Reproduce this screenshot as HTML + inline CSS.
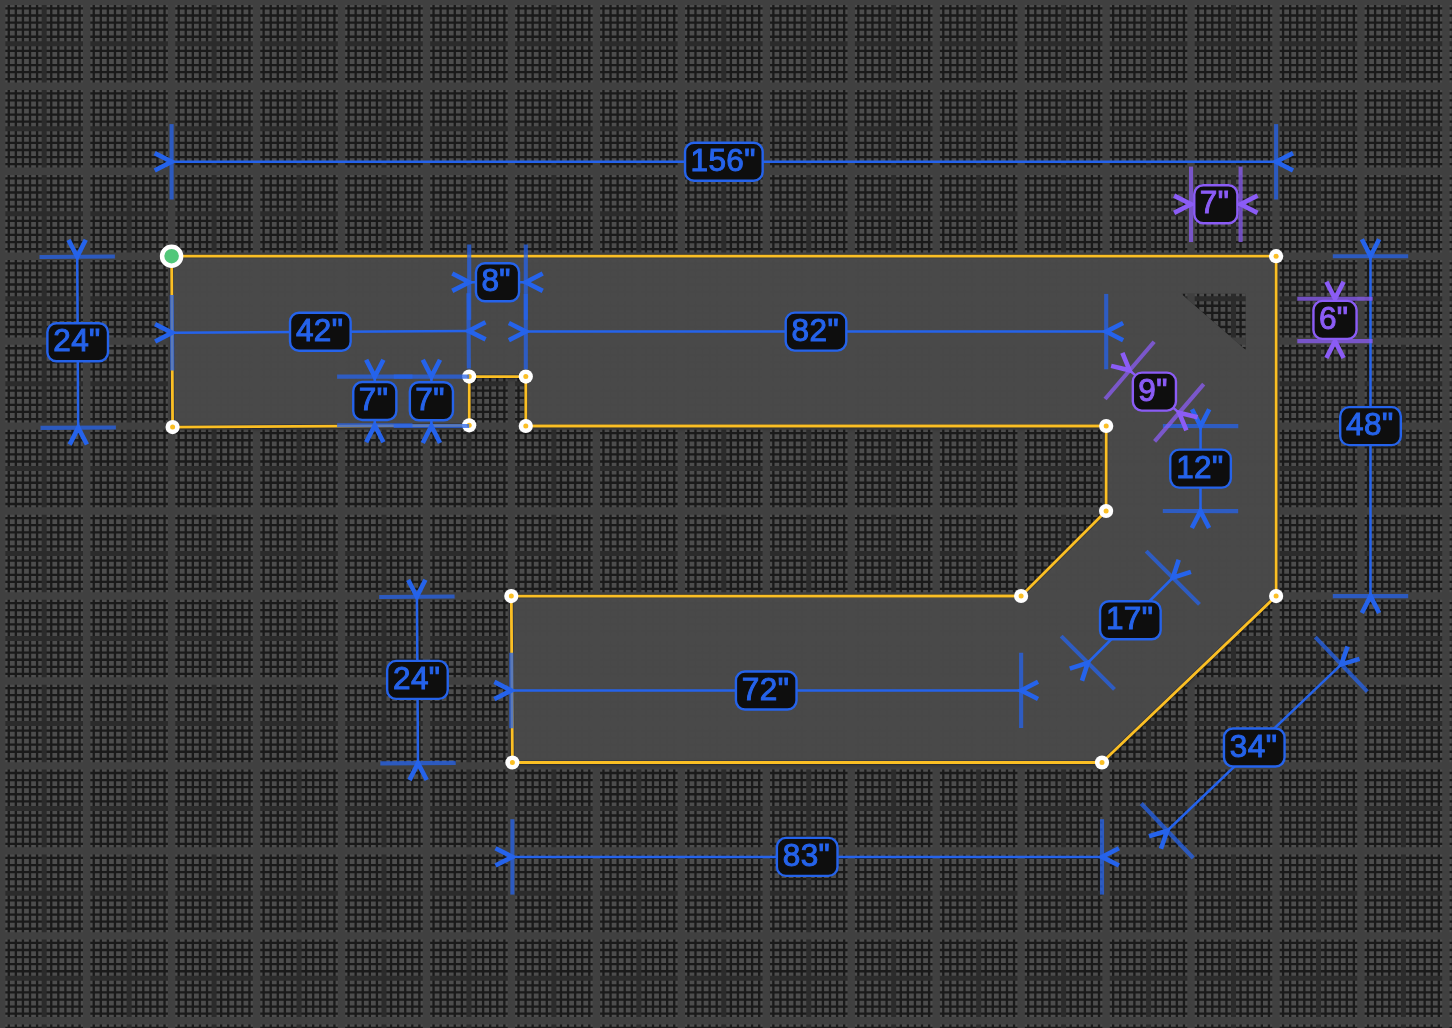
<!DOCTYPE html>
<html lang="en"><head><meta charset="utf-8"><title>Shape editor</title>
<style>
html,body{margin:0;padding:0;background:#4d4d4d;overflow:hidden}
body{width:1452px;height:1028px}
svg{display:block;will-change:transform}
text{font-family:"Liberation Sans",Arial,sans-serif;font-size:31.5px;letter-spacing:0.4px;text-anchor:middle}
</style></head><body>
<svg width="1452" height="1028" viewBox="0 0 1452 1028">
<rect width="1452" height="1028" fill="#4d4d4d"/>
<g fill="none">
<path stroke="#1a1a1a" stroke-width="2.3" d="M1.69 0V1028M8.77 0V1028M15.85 0V1028M22.93 0V1028M30.01 0V1028M37.09 0V1028M44.17 0V1028M51.25 0V1028M58.33 0V1028M65.41 0V1028M72.49 0V1028M79.57 0V1028M86.65 0V1028M93.73 0V1028M100.8 0V1028M107.88 0V1028M114.96 0V1028M122.04 0V1028M129.12 0V1028M136.2 0V1028M143.28 0V1028M150.36 0V1028M157.44 0V1028M164.52 0V1028M171.6 0V1028M178.68 0V1028M185.76 0V1028M192.84 0V1028M199.92 0V1028M207 0V1028M214.08 0V1028M221.16 0V1028M228.24 0V1028M235.32 0V1028M242.39 0V1028M249.47 0V1028M256.55 0V1028M263.63 0V1028M270.71 0V1028M277.79 0V1028M284.87 0V1028M291.95 0V1028M299.03 0V1028M306.11 0V1028M313.19 0V1028M320.27 0V1028M327.35 0V1028M334.43 0V1028M341.51 0V1028M348.59 0V1028M355.67 0V1028M362.75 0V1028M369.83 0V1028M376.91 0V1028M383.99 0V1028M391.06 0V1028M398.14 0V1028M405.22 0V1028M412.3 0V1028M419.38 0V1028M426.46 0V1028M433.54 0V1028M440.62 0V1028M447.7 0V1028M454.78 0V1028M461.86 0V1028M468.94 0V1028M476.02 0V1028M483.1 0V1028M490.18 0V1028M497.26 0V1028M504.34 0V1028M511.42 0V1028M518.5 0V1028M525.58 0V1028M532.65 0V1028M539.73 0V1028M546.81 0V1028M553.89 0V1028M560.97 0V1028M568.05 0V1028M575.13 0V1028M582.21 0V1028M589.29 0V1028M596.37 0V1028M603.45 0V1028M610.53 0V1028M617.61 0V1028M624.69 0V1028M631.77 0V1028M638.85 0V1028M645.93 0V1028M653.01 0V1028M660.09 0V1028M667.16 0V1028M674.24 0V1028M681.32 0V1028M688.4 0V1028M695.48 0V1028M702.56 0V1028M709.64 0V1028M716.72 0V1028M723.8 0V1028M730.88 0V1028M737.96 0V1028M745.04 0V1028M752.12 0V1028M759.2 0V1028M766.28 0V1028M773.36 0V1028M780.44 0V1028M787.52 0V1028M794.6 0V1028M801.68 0V1028M808.76 0V1028M815.83 0V1028M822.91 0V1028M829.99 0V1028M837.07 0V1028M844.15 0V1028M851.23 0V1028M858.31 0V1028M865.39 0V1028M872.47 0V1028M879.55 0V1028M886.63 0V1028M893.71 0V1028M900.79 0V1028M907.87 0V1028M914.95 0V1028M922.03 0V1028M929.11 0V1028M936.19 0V1028M943.27 0V1028M950.35 0V1028M957.42 0V1028M964.5 0V1028M971.58 0V1028M978.66 0V1028M985.74 0V1028M992.82 0V1028M999.9 0V1028M1006.98 0V1028M1014.06 0V1028M1021.14 0V1028M1028.22 0V1028M1035.3 0V1028M1042.38 0V1028M1049.46 0V1028M1056.54 0V1028M1063.62 0V1028M1070.7 0V1028M1077.78 0V1028M1084.86 0V1028M1091.93 0V1028M1099.01 0V1028M1106.09 0V1028M1113.17 0V1028M1120.25 0V1028M1127.33 0V1028M1134.41 0V1028M1141.49 0V1028M1148.57 0V1028M1155.65 0V1028M1162.73 0V1028M1169.81 0V1028M1176.89 0V1028M1183.97 0V1028M1191.05 0V1028M1198.13 0V1028M1205.21 0V1028M1212.29 0V1028M1219.37 0V1028M1226.45 0V1028M1233.52 0V1028M1240.6 0V1028M1247.68 0V1028M1254.76 0V1028M1261.84 0V1028M1268.92 0V1028M1276 0V1028M1283.08 0V1028M1290.16 0V1028M1297.24 0V1028M1304.32 0V1028M1311.4 0V1028M1318.48 0V1028M1325.56 0V1028M1332.64 0V1028M1339.72 0V1028M1346.8 0V1028M1353.88 0V1028M1360.96 0V1028M1368.04 0V1028M1375.12 0V1028M1382.19 0V1028M1389.27 0V1028M1396.35 0V1028M1403.43 0V1028M1410.51 0V1028M1417.59 0V1028M1424.67 0V1028M1431.75 0V1028M1438.83 0V1028M1445.91 0V1028M1452.99 0V1028M0 1.34H1452M0 8.42H1452M0 15.5H1452M0 22.58H1452M0 29.66H1452M0 36.74H1452M0 43.81H1452M0 50.89H1452M0 57.97H1452M0 65.05H1452M0 72.13H1452M0 79.21H1452M0 86.29H1452M0 93.37H1452M0 100.45H1452M0 107.53H1452M0 114.61H1452M0 121.69H1452M0 128.77H1452M0 135.85H1452M0 142.93H1452M0 150.01H1452M0 157.09H1452M0 164.17H1452M0 171.25H1452M0 178.33H1452M0 185.4H1452M0 192.48H1452M0 199.56H1452M0 206.64H1452M0 213.72H1452M0 220.8H1452M0 227.88H1452M0 234.96H1452M0 242.04H1452M0 249.12H1452M0 256.2H1452M0 263.28H1452M0 270.36H1452M0 277.44H1452M0 284.52H1452M0 291.6H1452M0 298.68H1452M0 305.76H1452M0 312.84H1452M0 319.92H1452M0 327H1452M0 334.07H1452M0 341.15H1452M0 348.23H1452M0 355.31H1452M0 362.39H1452M0 369.47H1452M0 376.55H1452M0 383.63H1452M0 390.71H1452M0 397.79H1452M0 404.87H1452M0 411.95H1452M0 419.03H1452M0 426.11H1452M0 433.19H1452M0 440.27H1452M0 447.35H1452M0 454.43H1452M0 461.51H1452M0 468.59H1452M0 475.66H1452M0 482.74H1452M0 489.82H1452M0 496.9H1452M0 503.98H1452M0 511.06H1452M0 518.14H1452M0 525.22H1452M0 532.3H1452M0 539.38H1452M0 546.46H1452M0 553.54H1452M0 560.62H1452M0 567.7H1452M0 574.78H1452M0 581.86H1452M0 588.94H1452M0 596.02H1452M0 603.1H1452M0 610.17H1452M0 617.25H1452M0 624.33H1452M0 631.41H1452M0 638.49H1452M0 645.57H1452M0 652.65H1452M0 659.73H1452M0 666.81H1452M0 673.89H1452M0 680.97H1452M0 688.05H1452M0 695.13H1452M0 702.21H1452M0 709.29H1452M0 716.37H1452M0 723.45H1452M0 730.53H1452M0 737.61H1452M0 744.69H1452M0 751.76H1452M0 758.84H1452M0 765.92H1452M0 773H1452M0 780.08H1452M0 787.16H1452M0 794.24H1452M0 801.32H1452M0 808.4H1452M0 815.48H1452M0 822.56H1452M0 829.64H1452M0 836.72H1452M0 843.8H1452M0 850.88H1452M0 857.96H1452M0 865.04H1452M0 872.12H1452M0 879.2H1452M0 886.28H1452M0 893.36H1452M0 900.43H1452M0 907.51H1452M0 914.59H1452M0 921.67H1452M0 928.75H1452M0 935.83H1452M0 942.91H1452M0 949.99H1452M0 957.07H1452M0 964.15H1452M0 971.23H1452M0 978.31H1452M0 985.39H1452M0 992.47H1452M0 999.55H1452M0 1006.63H1452M0 1013.71H1452M0 1020.79H1452M0 1027.87H1452"/>
<path stroke="#2b2b2b" stroke-width="5" d="M1.69 0V1028M44.17 0V1028M86.65 0V1028M129.12 0V1028M171.6 0V1028M214.08 0V1028M256.55 0V1028M299.03 0V1028M341.51 0V1028M383.99 0V1028M426.46 0V1028M468.94 0V1028M511.42 0V1028M553.89 0V1028M596.37 0V1028M638.85 0V1028M681.32 0V1028M723.8 0V1028M766.28 0V1028M808.76 0V1028M851.23 0V1028M893.71 0V1028M936.19 0V1028M978.66 0V1028M1021.14 0V1028M1063.62 0V1028M1106.09 0V1028M1148.57 0V1028M1191.05 0V1028M1233.52 0V1028M1276 0V1028M1318.48 0V1028M1360.96 0V1028M1403.43 0V1028M1445.91 0V1028M0 1.34H1452M0 43.81H1452M0 86.29H1452M0 128.77H1452M0 171.25H1452M0 213.72H1452M0 256.2H1452M0 298.68H1452M0 341.15H1452M0 383.63H1452M0 426.11H1452M0 468.59H1452M0 511.06H1452M0 553.54H1452M0 596.02H1452M0 638.49H1452M0 680.97H1452M0 723.45H1452M0 765.92H1452M0 808.4H1452M0 850.88H1452M0 893.36H1452M0 935.83H1452M0 978.31H1452M0 1020.79H1452"/>
<path stroke="#404040" stroke-width="7.4" d="M1.69 0V1028M86.65 0V1028M171.6 0V1028M256.55 0V1028M341.51 0V1028M426.46 0V1028M511.42 0V1028M596.37 0V1028M681.32 0V1028M766.28 0V1028M851.23 0V1028M936.19 0V1028M1021.14 0V1028M1106.09 0V1028M1191.05 0V1028M1276 0V1028M1360.96 0V1028M1445.91 0V1028M0 1.34H1452M0 86.29H1452M0 171.25H1452M0 256.2H1452M0 341.15H1452M0 426.11H1452M0 511.06H1452M0 596.02H1452M0 680.97H1452M0 765.92H1452M0 850.88H1452M0 935.83H1452M0 1020.79H1452"/>
</g>
<defs><filter id="ds" x="-5%" y="-5%" width="110%" height="110%"><feGaussianBlur in="SourceAlpha" stdDeviation="2.5"/><feOffset dy="2"/><feComponentTransfer><feFuncA type="linear" slope="0.4"/></feComponentTransfer></filter><clipPath id="nh"><path clip-rule="evenodd" d="M0 0H1452V1028H0ZM1181.2 293.8L1245.6 293.8L1245.6 349.8Z"/></clipPath></defs>
<g clip-path="url(#nh)"><path d="M171.6 256.2L1276.1 256.2L1276.1 596.1L1102 762.5L512.4 762.5L511.3 596.1L1021.1 596L1106.1 511L1106.2 426L525.8 426L525.8 376.6L469.2 376.6L469.2 425.3L172.6 427.1Z" fill="#000" filter="url(#ds)"/></g>
<path d="M171.6 256.2L1276.1 256.2L1276.1 596.1L1102 762.5L512.4 762.5L511.3 596.1L1021.1 596L1106.1 511L1106.2 426L525.8 426L525.8 376.6L469.2 376.6L469.2 425.3L172.6 427.1ZM1181.2 293.8L1245.6 293.8L1245.6 349.8Z" fill="#4b4b4b" fill-opacity="0.96" fill-rule="evenodd"/>
<path d="M171.6 256.2L1276.1 256.2L1276.1 596.1L1102 762.5L512.4 762.5L511.3 596.1L1021.1 596L1106.1 511L1106.2 426L525.8 426L525.8 376.6L469.2 376.6L469.2 425.3L172.6 427.1Z" fill="none" stroke="#161a2e" stroke-opacity="0.5" stroke-width="4.1" stroke-linejoin="round"/>
<path d="M171.6 256.2L1276.1 256.2L1276.1 596.1L1102 762.5L512.4 762.5L511.3 596.1L1021.1 596L1106.1 511L1106.2 426L525.8 426L525.8 376.6L469.2 376.6L469.2 425.3L172.6 427.1Z" fill="none" stroke="#fbbf24" stroke-width="2.8" stroke-linejoin="round"/>
<circle cx="171.6" cy="256.2" r="9.5" fill="#52c77a" stroke="#fff" stroke-width="4.5"/>
<circle cx="1276.1" cy="256.2" r="7.1" fill="#fff"/><circle cx="1276.1" cy="256.2" r="2.5" fill="#fbbf24"/>
<circle cx="1276.1" cy="596.1" r="7.1" fill="#fff"/><circle cx="1276.1" cy="596.1" r="2.5" fill="#fbbf24"/>
<circle cx="1102" cy="762.5" r="7.1" fill="#fff"/><circle cx="1102" cy="762.5" r="2.5" fill="#fbbf24"/>
<circle cx="512.4" cy="762.5" r="7.1" fill="#fff"/><circle cx="512.4" cy="762.5" r="2.5" fill="#fbbf24"/>
<circle cx="511.3" cy="596.1" r="7.1" fill="#fff"/><circle cx="511.3" cy="596.1" r="2.5" fill="#fbbf24"/>
<circle cx="1021.1" cy="596" r="7.1" fill="#fff"/><circle cx="1021.1" cy="596" r="2.5" fill="#fbbf24"/>
<circle cx="1106.1" cy="511" r="7.1" fill="#fff"/><circle cx="1106.1" cy="511" r="2.5" fill="#fbbf24"/>
<circle cx="1106.2" cy="426" r="7.1" fill="#fff"/><circle cx="1106.2" cy="426" r="2.5" fill="#fbbf24"/>
<circle cx="525.8" cy="426" r="7.1" fill="#fff"/><circle cx="525.8" cy="426" r="2.5" fill="#fbbf24"/>
<circle cx="525.8" cy="376.6" r="7.1" fill="#fff"/><circle cx="525.8" cy="376.6" r="2.5" fill="#fbbf24"/>
<circle cx="469.2" cy="376.6" r="7.1" fill="#fff"/><circle cx="469.2" cy="376.6" r="2.5" fill="#fbbf24"/>
<circle cx="469.2" cy="425.3" r="7.1" fill="#fff"/><circle cx="469.2" cy="425.3" r="2.5" fill="#fbbf24"/>
<circle cx="172.6" cy="427.1" r="7.1" fill="#fff"/><circle cx="172.6" cy="427.1" r="2.5" fill="#fbbf24"/>
<g stroke="#2563eb" fill="none"><path stroke-opacity="0.75" stroke-width="4.1" d="M171.6 199.5L171.6 124.1"/><path stroke-opacity="0.75" stroke-width="4.1" d="M1276.1 199.5L1276.1 124.1"/><path stroke-width="2.5" d="M171.6 161.8L1276.1 161.8"/><path stroke-width="4.6" stroke-linejoin="miter" d="M154.67 153.17L171.6 161.8L154.67 170.43M1293.03 170.43L1276.1 161.8L1293.03 153.17"/></g>
<g stroke="#2563eb" fill="none"><path stroke-opacity="0.75" stroke-width="4.1" d="M115.9 427.43L40.5 427.87"/><path stroke-opacity="0.75" stroke-width="4.1" d="M114.9 256.53L39.5 256.97"/><path stroke-width="2.5" d="M78.2 427.65L77.2 256.75"/><path stroke-width="4.6" stroke-linejoin="miter" d="M69.68 444.63L78.2 427.65L86.93 444.53M85.73 239.77L77.2 256.75L68.48 239.87"/></g>
<g stroke="#2563eb" fill="none"><path stroke-opacity="0.75" stroke-width="4.1" d="M172.26 370.4L171.8 295"/><path stroke-opacity="0.75" stroke-width="4.1" d="M468.86 368.6L468.4 293.2"/><path stroke-width="2.5" d="M172.03 332.7L468.63 330.9"/><path stroke-width="4.6" stroke-linejoin="miter" d="M155.05 324.18L172.03 332.7L155.15 341.43M485.61 339.42L468.63 330.9L485.5 322.17"/></g>
<g stroke="#2563eb" fill="none"><path stroke-opacity="0.75" stroke-width="4.1" d="M412.5 425.3L337.1 425.3"/><path stroke-opacity="0.75" stroke-width="4.1" d="M412.5 376.6L337.1 376.6"/><path stroke-width="2.5" d="M374.8 425.3L374.8 376.6"/><path stroke-width="4.6" stroke-linejoin="miter" d="M366.17 442.23L374.8 425.3L383.43 442.23M383.43 359.67L374.8 376.6L366.17 359.67"/></g>
<g stroke="#2563eb" fill="none"><path stroke-opacity="0.75" stroke-width="4.1" d="M469.2 319.9L469.2 244.5"/><path stroke-opacity="0.75" stroke-width="4.1" d="M525.8 319.9L525.8 244.5"/><path stroke-width="2.5" d="M469.2 282.2L525.8 282.2"/><path stroke-width="4.6" stroke-linejoin="miter" d="M452.27 273.57L469.2 282.2L452.27 290.83M542.73 290.83L525.8 282.2L542.73 273.57"/></g>
<g stroke="#2563eb" fill="none"><path stroke-opacity="0.75" stroke-width="4.1" d="M469.1 376.6L393.7 376.6"/><path stroke-opacity="0.75" stroke-width="4.1" d="M469.1 426L393.7 426"/><path stroke-width="2.5" d="M431.4 376.6L431.4 426"/><path stroke-width="4.6" stroke-linejoin="miter" d="M440.03 359.67L431.4 376.6L422.77 359.67M422.77 442.93L431.4 426L440.03 442.93"/></g>
<g stroke="#2563eb" fill="none"><path stroke-opacity="0.75" stroke-width="4.1" d="M525.8 369.3L525.8 293.9"/><path stroke-opacity="0.75" stroke-width="4.1" d="M1106.2 369.3L1106.2 293.9"/><path stroke-width="2.5" d="M525.8 331.6L1106.2 331.6"/><path stroke-width="4.6" stroke-linejoin="miter" d="M508.87 322.97L525.8 331.6L508.87 340.23M1123.13 340.23L1106.2 331.6L1123.13 322.97"/></g>
<g stroke="#2563eb" fill="none"><path stroke-opacity="0.75" stroke-width="4.1" d="M1162.9 426.07L1238.3 426.16"/><path stroke-opacity="0.75" stroke-width="4.1" d="M1162.8 511.07L1238.2 511.16"/><path stroke-width="2.5" d="M1200.6 426.11L1200.5 511.11"/><path stroke-width="4.6" stroke-linejoin="miter" d="M1209.25 409.19L1200.6 426.11L1191.99 409.17M1191.85 528.03L1200.5 511.11L1209.11 528.05"/></g>
<g stroke="#2563eb" fill="none"><path stroke-opacity="0.75" stroke-width="4.1" d="M1061.19 636.09L1114.51 689.41"/><path stroke-opacity="0.75" stroke-width="4.1" d="M1146.19 551.09L1199.51 604.41"/><path stroke-width="2.5" d="M1087.85 662.75L1172.85 577.75"/><path stroke-width="4.6" stroke-linejoin="miter" d="M1069.78 668.62L1087.85 662.75L1081.98 680.82M1190.92 571.88L1172.85 577.75L1178.72 559.68"/></g>
<g stroke="#2563eb" fill="none"><path stroke-opacity="0.75" stroke-width="4.1" d="M511.31 652.8L511.33 728.2"/><path stroke-opacity="0.75" stroke-width="4.1" d="M1021.11 652.7L1021.13 728.1"/><path stroke-width="2.5" d="M511.32 690.5L1021.12 690.4"/><path stroke-width="4.6" stroke-linejoin="miter" d="M494.39 681.88L511.32 690.5L494.39 699.13M1038.05 699.02L1021.12 690.4L1038.05 681.77"/></g>
<g stroke="#2563eb" fill="none"><path stroke-opacity="0.75" stroke-width="4.1" d="M454.6 596.47L379.2 596.97"/><path stroke-opacity="0.75" stroke-width="4.1" d="M455.7 762.87L380.3 763.37"/><path stroke-width="2.5" d="M416.9 596.72L418 763.12"/><path stroke-width="4.6" stroke-linejoin="miter" d="M425.42 579.74L416.9 596.72L408.16 579.85M409.49 780.11L418 763.12L426.74 780"/></g>
<g stroke="#2563eb" fill="none"><path stroke-opacity="0.75" stroke-width="4.1" d="M512.4 819.2L512.4 894.6"/><path stroke-opacity="0.75" stroke-width="4.1" d="M1102 819.2L1102 894.6"/><path stroke-width="2.5" d="M512.4 856.9L1102 856.9"/><path stroke-width="4.6" stroke-linejoin="miter" d="M495.47 848.27L512.4 856.9L495.47 865.53M1118.93 865.53L1102 856.9L1118.93 848.27"/></g>
<g stroke="#2563eb" fill="none"><path stroke-opacity="0.75" stroke-width="4.1" d="M1141.18 803.49L1193.27 858"/><path stroke-opacity="0.75" stroke-width="4.1" d="M1315.28 637.09L1367.37 691.6"/><path stroke-width="2.5" d="M1167.22 830.74L1341.32 664.34"/><path stroke-width="4.6" stroke-linejoin="miter" d="M1149.03 836.2L1167.22 830.74L1160.95 848.68M1359.52 658.88L1341.32 664.34L1347.6 646.41"/></g>
<g stroke="#2563eb" fill="none"><path stroke-opacity="0.75" stroke-width="4.1" d="M1332.8 256.2L1408.2 256.2"/><path stroke-opacity="0.75" stroke-width="4.1" d="M1332.8 596.1L1408.2 596.1"/><path stroke-width="2.5" d="M1370.5 256.2L1370.5 596.1"/><path stroke-width="4.6" stroke-linejoin="miter" d="M1379.13 239.27L1370.5 256.2L1361.87 239.27M1361.87 613.03L1370.5 596.1L1379.13 613.03"/></g>
<g stroke="#8b5cf6" fill="none"><path stroke-opacity="0.75" stroke-width="4.1" d="M1191.05 241.98L1191.05 166.58"/><path stroke-opacity="0.75" stroke-width="4.1" d="M1240.6 241.98L1240.6 166.58"/><path stroke-width="2.5" d="M1191.05 204.28L1240.6 204.28"/><path stroke-width="4.6" stroke-linejoin="miter" d="M1174.12 195.65L1191.05 204.28L1174.12 212.9M1257.53 212.9L1240.6 204.28L1257.53 195.65"/></g>
<g stroke="#8b5cf6" fill="none"><path stroke-opacity="0.75" stroke-width="4.1" d="M1297.3 298.68L1372.7 298.68"/><path stroke-opacity="0.75" stroke-width="4.1" d="M1297.3 341.15L1372.7 341.15"/><path stroke-width="2.5" d="M1335 298.68L1335 341.15"/><path stroke-width="4.6" stroke-linejoin="miter" d="M1343.63 281.75L1335 298.68L1326.38 281.75M1326.38 358.08L1335 341.15L1343.63 358.08"/></g>
<g stroke="#8b5cf6" fill="none"><path stroke-opacity="0.75" stroke-width="4.1" d="M1154.15 341.73L1105.08 398.97"/><path stroke-opacity="0.75" stroke-width="4.1" d="M1203.7 384.2L1154.63 441.45"/><path stroke-width="2.5" d="M1129.61 370.35L1179.17 412.83"/><path stroke-width="4.6" stroke-linejoin="miter" d="M1122.37 352.78L1129.61 370.35L1111.15 365.88M1186.41 430.39L1179.17 412.83L1197.64 417.3"/></g>
<rect x="685.05" y="142.8" width="77.6" height="38" rx="9" fill="#0e0e0e" stroke="#2563eb" stroke-width="2.4"/><text x="723.15" y="170.9" fill="#2563eb" stroke="#2563eb" stroke-width="1">156&quot;</text>
<rect x="47.4" y="323.2" width="60.6" height="38" rx="9" fill="#0e0e0e" stroke="#2563eb" stroke-width="2.4"/><text x="77" y="351.3" fill="#2563eb" stroke="#2563eb" stroke-width="1">24&quot;</text>
<rect x="290.03" y="312.8" width="60.6" height="38" rx="9" fill="#0e0e0e" stroke="#2563eb" stroke-width="2.4"/><text x="319.63" y="340.9" fill="#2563eb" stroke="#2563eb" stroke-width="1">42&quot;</text>
<rect x="353.25" y="381.95" width="43.1" height="38" rx="9" fill="#0e0e0e" stroke="#2563eb" stroke-width="2.4"/><text x="373.5" y="410.05" fill="#2563eb" stroke="#2563eb" stroke-width="1">7&quot;</text>
<rect x="475.95" y="263.2" width="43.1" height="38" rx="9" fill="#0e0e0e" stroke="#2563eb" stroke-width="2.4"/><text x="496.2" y="291.3" fill="#2563eb" stroke="#2563eb" stroke-width="1">8&quot;</text>
<rect x="409.85" y="382.3" width="43.1" height="38" rx="9" fill="#0e0e0e" stroke="#2563eb" stroke-width="2.4"/><text x="430.1" y="410.4" fill="#2563eb" stroke="#2563eb" stroke-width="1">7&quot;</text>
<rect x="785.7" y="312.6" width="60.6" height="38" rx="9" fill="#0e0e0e" stroke="#2563eb" stroke-width="2.4"/><text x="815.3" y="340.7" fill="#2563eb" stroke="#2563eb" stroke-width="1">82&quot;</text>
<rect x="1170.25" y="449.61" width="60.6" height="38" rx="9" fill="#0e0e0e" stroke="#2563eb" stroke-width="2.4"/><text x="1199.85" y="477.71" fill="#2563eb" stroke="#2563eb" stroke-width="1">12&quot;</text>
<rect x="1100.05" y="601.25" width="60.6" height="38" rx="9" fill="#0e0e0e" stroke="#2563eb" stroke-width="2.4"/><text x="1129.65" y="629.35" fill="#2563eb" stroke="#2563eb" stroke-width="1">17&quot;</text>
<rect x="735.92" y="671.45" width="60.6" height="38" rx="9" fill="#0e0e0e" stroke="#2563eb" stroke-width="2.4"/><text x="765.52" y="699.55" fill="#2563eb" stroke="#2563eb" stroke-width="1">72&quot;</text>
<rect x="387.15" y="660.92" width="60.6" height="38" rx="9" fill="#0e0e0e" stroke="#2563eb" stroke-width="2.4"/><text x="416.75" y="689.02" fill="#2563eb" stroke="#2563eb" stroke-width="1">24&quot;</text>
<rect x="776.9" y="837.9" width="60.6" height="38" rx="9" fill="#0e0e0e" stroke="#2563eb" stroke-width="2.4"/><text x="806.5" y="866" fill="#2563eb" stroke="#2563eb" stroke-width="1">83&quot;</text>
<rect x="1223.97" y="728.54" width="60.6" height="38" rx="9" fill="#0e0e0e" stroke="#2563eb" stroke-width="2.4"/><text x="1253.57" y="756.64" fill="#2563eb" stroke="#2563eb" stroke-width="1">34&quot;</text>
<rect x="1340.2" y="407.15" width="60.6" height="38" rx="9" fill="#0e0e0e" stroke="#2563eb" stroke-width="2.4"/><text x="1369.8" y="435.25" fill="#2563eb" stroke="#2563eb" stroke-width="1">48&quot;</text>
<rect x="1194.28" y="185.28" width="43.1" height="38" rx="9" fill="#0e0e0e" stroke="#8b5cf6" stroke-width="2.4"/><text x="1214.53" y="213.38" fill="#8b5cf6" stroke="#8b5cf6" stroke-width="1">7&quot;</text>
<rect x="1313.45" y="300.92" width="43.1" height="38" rx="9" fill="#0e0e0e" stroke="#8b5cf6" stroke-width="2.4"/><text x="1333.7" y="329.02" fill="#8b5cf6" stroke="#8b5cf6" stroke-width="1">6&quot;</text>
<rect x="1132.84" y="372.59" width="43.1" height="38" rx="9" fill="#0e0e0e" stroke="#8b5cf6" stroke-width="2.4"/><text x="1153.09" y="400.69" fill="#8b5cf6" stroke="#8b5cf6" stroke-width="1">9&quot;</text>
</svg>
</body></html>
